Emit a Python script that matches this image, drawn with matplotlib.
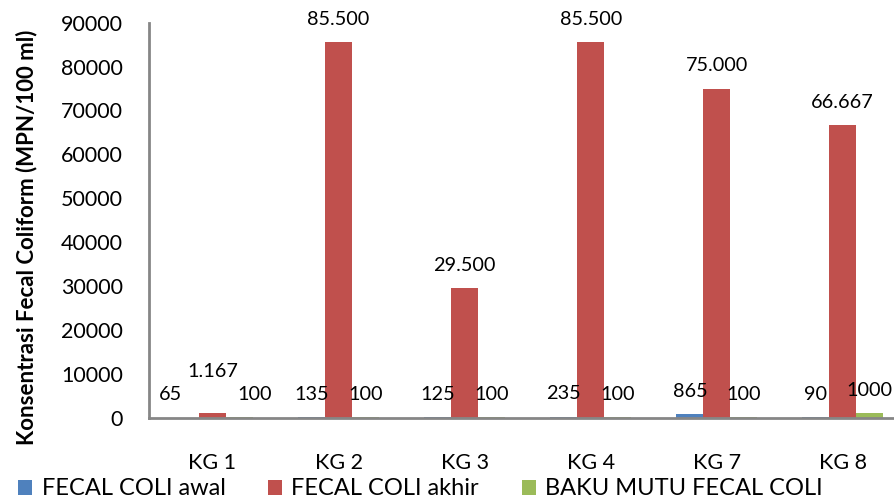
import numpy as np
import matplotlib
matplotlib.use("Agg")
import matplotlib.pyplot as plt

plt.rcParams['font.family'] = ['Lato', 'DejaVu Sans']

# data
categories = ['KG 1', 'KG 2', 'KG 3', 'KG 4', 'KG 7', 'KG 8']
awal = [65, 135, 125, 235, 865, 90]
akhir = [1167, 85500, 29500, 85500, 75000, 66667]
baku = [100, 100, 100, 100, 100, 1000]
series_names = ['FECAL COLI awal', 'FECAL COLI akhir', 'BAKU MUTU FECAL COLI']
colors = ['#4F81BD', '#C0504D', '#9BBB59']


def fmt_dot(v):
    # thousands separator as dot (Indonesian style)
    return f"{v:,}".replace(',', '.')


fmts = [fmt_dot, fmt_dot, str]

fig = plt.figure(figsize=(8.95, 5.04), dpi=100)
ax = fig.add_axes([0.167, 0.171, 0.845, 0.784])

x = np.arange(len(categories))
w = 0.213
for i, (vals, name, c) in enumerate(zip([awal, akhir, baku], series_names, colors)):
    pos = x + (i - 1) * w
    ax.bar(pos, vals, width=w, color=c, label=name)
    for j, (p, v) in enumerate(zip(pos, vals)):
        dx, dy = 0, 16.5
        # when the middle bar is short its label would collide with the
        # neighbours: push the side labels out and lift the middle one
        if akhir[j] < 5000:
            dx = (i - 1) * 11
            if i == 1:
                dy = 30
        ax.annotate(fmts[i](v), (p, v), xytext=(dx, dy), textcoords='offset points',
                    ha='center', va='center', fontsize=14.3)

ax.set_xlim(-0.5, len(categories) - 0.5)
ax.set_ylim(0, 90000)
ax.set_yticks(np.arange(0, 90001, 10000))
ax.set_xticks(x)
ax.set_xticklabels(categories)
ax.tick_params(length=0, labelsize=15.5)
ax.tick_params(axis='y', pad=19)
ax.tick_params(axis='x', pad=25)

for s in ['top', 'right']:
    ax.spines[s].set_visible(False)
for s in ['left', 'bottom']:
    ax.spines[s].set_color('#868686')
    ax.spines[s].set_linewidth(2)

ax.set_ylabel('Konsentrasi Fecal Coliform (MPN/100 ml)', fontsize=16,
              fontweight='bold')
ax.yaxis.set_label_coords(-0.148, 0.456)

fig.legend(loc='center left', bbox_to_anchor=(0.02, 0.03), ncol=3,
           frameon=False, fontsize=17, handlelength=0.6, handleheight=0.6,
           handletextpad=0.4, columnspacing=1.8, borderaxespad=0, borderpad=0)

fig.savefig('out.png', dpi=100)
